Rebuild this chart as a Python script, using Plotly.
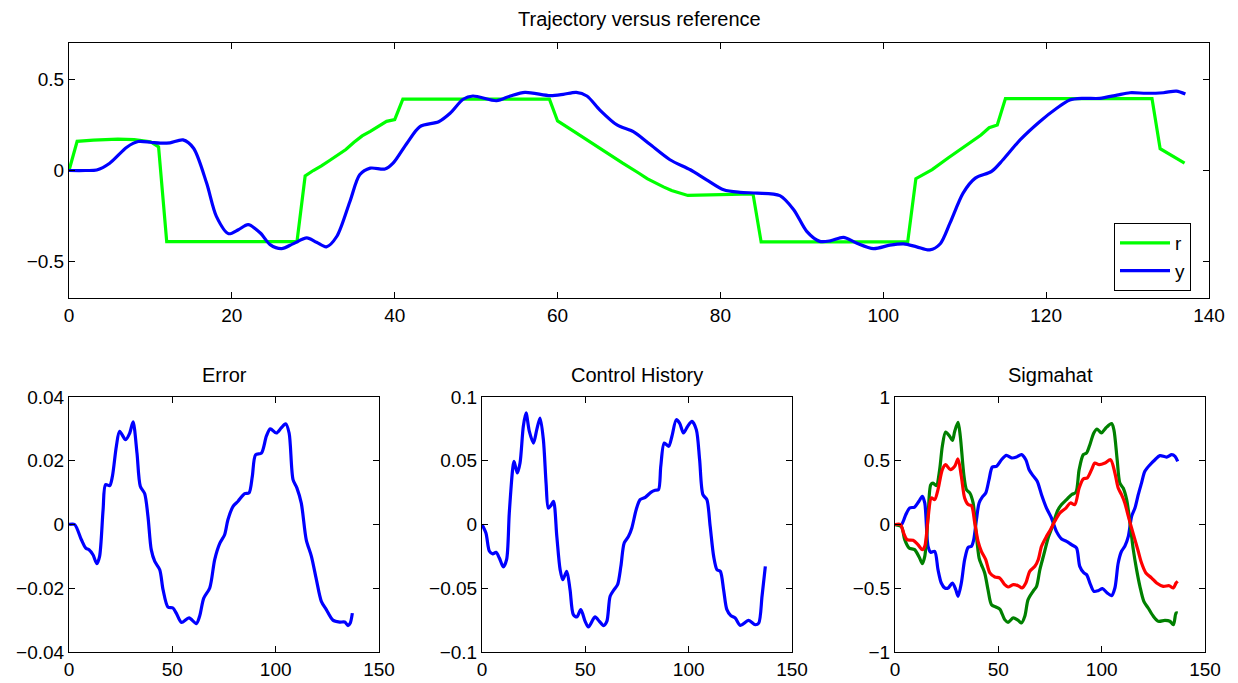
import plotly.graph_objects as go

# ---------------- Data ----------------
# Trajectory versus reference: reference r (piecewise linear)
r_t = [0, 1, 3, 6, 8, 10, 11, 12, 28, 29, 30, 31, 32, 33, 34, 35, 36, 37, 38, 39, 40, 41,
       59, 60, 62, 64, 66, 68, 70, 71, 73, 74, 76, 80, 84, 85, 103, 104, 106, 108, 110,
       112, 113, 114, 115, 133, 134, 137]
r_v = [0.0, 0.16, 0.167, 0.172, 0.17, 0.158, 0.13, -0.39, -0.39, -0.03, 0.0, 0.025, 0.055,
       0.085, 0.115, 0.155, 0.19, 0.215, 0.245, 0.27, 0.28, 0.392,
       0.392, 0.272, 0.215, 0.155, 0.095, 0.04, -0.015, -0.045, -0.09, -0.11, -0.137, -0.133,
       -0.128, -0.392, -0.392, -0.045, 0.005, 0.07, 0.135, 0.195, 0.235, 0.25, 0.395, 0.395,
       0.12, 0.04]

# Output y
y_t = [0, 2, 3.4, 5.0, 7.1, 8.5, 10, 11.2, 12.4, 14.0, 15.3, 16.9, 18.1, 19.6, 20.8, 22.0,
       23.5, 24.7, 26.1, 27.5, 29.2, 30.4, 31.6, 32.9, 34.5, 35.7, 37.0, 38.8, 39.8, 41.5,
       43.1, 45.4, 46.8, 48.4, 49.6, 52.5, 54.2, 56.0, 59.1, 60.7, 62.3, 63.6, 65.2, 67.3,
       69.3, 71.3, 73.8, 76.3, 78.3, 80.4, 82.4, 84.5, 87.3, 89.0, 90.6, 92.2, 93.5, 95.1,
       96.7, 98.8, 100.8, 102.5, 104.1, 105.7, 107.0, 108.2, 109.8, 111.3, 113.3, 114.7,
       116.8, 119.2, 121.3, 122.9, 124.6, 126.6, 128.7, 130.3, 132.3, 134.4, 136.0, 137.1]
y_v = [0.0, 0.0, 0.003, 0.04, 0.128, 0.159, 0.155, 0.15, 0.152, 0.168, 0.122, -0.069, -0.252,
       -0.347, -0.325, -0.297, -0.343, -0.407, -0.429, -0.403, -0.370, -0.394, -0.419, -0.361,
       -0.17, -0.024, 0.013, 0.008, 0.04, 0.150, 0.241, 0.268, 0.314, 0.391, 0.409, 0.383,
       0.409, 0.429, 0.411, 0.418, 0.429, 0.409, 0.332, 0.250, 0.213, 0.145, 0.059, 0.004,
       -0.051, -0.106, -0.120, -0.124, -0.138, -0.215, -0.334, -0.389, -0.386, -0.367, -0.398,
       -0.429, -0.410, -0.403, -0.419, -0.436, -0.402, -0.288, -0.124, -0.042, -0.005, 0.059,
       0.168, 0.268, 0.342, 0.387, 0.396, 0.396, 0.414, 0.427, 0.424, 0.427, 0.436, 0.420]

# Error
err_t = [0, 2.7, 6.0, 8.1, 9.7, 11.6, 13.5, 14.8, 16.5, 17.7, 19.7, 21.0, 22.9, 24.5, 27.4,
         29.4, 31.0, 32.9, 34.5, 36.6, 38.2, 39.8, 41.5, 43.9, 45.5, 47.9, 50.3, 51.9, 54.4,
         58.1, 61.6, 63.2, 65.2, 68.1, 70.5, 72.9, 75.3, 76.9, 79.4, 81.8, 85.0, 87.1, 88.7,
         90.3, 93.1, 95.5, 97.4, 100.3, 102.7, 104.8, 106.5, 108.4, 110.3, 112.4, 114.8,
         117.3, 119.7, 122.1, 124.5, 127.7, 131.0, 133.4, 135.0, 136.1, 137.1]
err_v = [0.0, 0.0, -0.0048, -0.0074, -0.0079, -0.0095, -0.0123, -0.010, 0.0047, 0.0125,
         0.0122, 0.0151, 0.0245, 0.0292, 0.0266, 0.0287, 0.0322, 0.0224, 0.012, 0.0097,
         0.0026, -0.0079, -0.0116, -0.0142, -0.0204, -0.0259, -0.0262, -0.0278, -0.0307,
         -0.0293, -0.0311, -0.0288, -0.0231, -0.0199, -0.011, -0.006, -0.0032, 0.0015, 0.0057,
         0.0073, 0.0097, 0.0099, 0.0151, 0.0219, 0.0224, 0.0277, 0.030, 0.0287, 0.0303,
         0.0316, 0.0287, 0.0141, 0.0114, 0.0067, -0.0048, -0.010, -0.0173, -0.0241, -0.0267,
         -0.030, -0.0306, -0.0306, -0.0317, -0.0309, -0.0278]

# Control history
ctl_t = [0, 1.9, 3.6, 5.2, 6.8, 8.4, 10.3, 11.9, 13.2, 14.9, 15.5, 17.1, 18.4, 20.0, 21.3,
         22.9, 24.9, 26.5, 28.1, 29.7, 31.0, 32.1, 33.3, 34.6, 36.2, 37.8, 39.1, 41.0, 42.6,
         44.2, 45.9, 47.8, 49.9, 51.5, 54.7, 56.8, 58.8, 60.4, 62.0, 63.9, 65.6, 67.2, 68.8,
         70.9, 72.5, 74.6, 76.5, 79.0, 81.7, 83.8, 85.4, 86.5, 88.2, 90.3, 91.9, 94.0, 95.6,
         97.5, 99.5, 101.6, 103.7, 105.3, 106.9, 108.8, 110.4, 112.1, 113.7, 115.3, 116.9,
         118.5, 120.4, 122.5, 125.0, 129.0, 132.2, 133.9, 135.5, 137.1]
ctl_v = [0.0, -0.0067, -0.021, -0.0231, -0.0218, -0.0263, -0.0333, -0.0276, 0.009, 0.0443,
         0.0495, 0.0404, 0.0482, 0.077, 0.0875, 0.0731, 0.0639, 0.0744, 0.0835, 0.0665,
         0.0325, 0.0129, 0.0148, 0.0182, -0.0093, -0.0354, -0.0433, -0.0367, -0.0511, -0.0707,
         -0.0725, -0.0668, -0.076, -0.0804, -0.0725, -0.076, -0.0793, -0.076, -0.0563,
         -0.0511, -0.0472, -0.0328, -0.0145, -0.0093, -0.0027, 0.0116, 0.0195, 0.0213, 0.0252,
         0.0268, 0.0273, 0.0456, 0.0639, 0.0613, 0.0692, 0.0822, 0.0796, 0.0718, 0.077,
         0.0809, 0.0744, 0.0508, 0.0234, 0.0195, -0.0014, -0.025, -0.0354, -0.0367, -0.0511,
         -0.0668, -0.0715, -0.0733, -0.0791, -0.0752, -0.0786, -0.0773, -0.0563, -0.0328]

# Sigmahat (three components)
sb_t = [0, 3.1, 5.2, 7.1, 9.5, 11.6, 13.2, 14.4, 16.0, 17.3, 19.2, 20.8, 22.4, 24.1, 25.7,
        27.8, 29.4, 30.5, 32.1, 33.7, 35.4, 37.0, 38.1, 39.4, 40.7, 42.3, 43.9, 45.5, 47.1,
        49.1, 51.5, 53.9, 56.4, 58.8, 61.2, 63.3, 64.9, 66.8, 68.8, 70.9, 73.3, 75.7, 78.1,
        80.6, 83.0, 85.4, 87.8, 89.4, 91.4, 92.7, 94.3, 96.2, 98.3, 100.4, 102.7, 104.8,
        106.4, 108.0, 109.6, 111.2, 112.9, 114.5, 116.1, 117.7, 119.3, 120.9, 123.4, 125.8,
        128.2, 131.4, 133.9, 135.5, 136.8]
sb_v = [0.0, 0.0, 0.077, 0.129, 0.137, 0.182, 0.221, 0.169, -0.171, -0.218, -0.21, -0.354,
        -0.459, -0.498, -0.498, -0.459, -0.511, -0.563, -0.459, -0.276, -0.179, -0.171,
        -0.119, 0.038, 0.169, 0.216, 0.247, 0.352, 0.451, 0.456, 0.508, 0.542, 0.522, 0.529,
        0.548, 0.508, 0.430, 0.383, 0.339, 0.234, 0.129, 0.051, -0.054, -0.114, -0.132,
        -0.158, -0.184, -0.328, -0.380, -0.393, -0.459, -0.524, -0.519, -0.503, -0.537,
        -0.558, -0.498, -0.302, -0.21, -0.171, -0.093, 0.064, 0.129, 0.234, 0.326, 0.417,
        0.469, 0.508, 0.540, 0.529, 0.548, 0.535, 0.495]

sg_t = [0, 3.1, 4.7, 6.8, 9.5, 11.9, 13.2, 14.4, 16.0, 17.3, 18.4, 20.0, 21.6, 22.9, 24.5,
        26.5, 27.8, 28.9, 30.5, 31.6, 33.3, 34.6, 36.2, 37.8, 39.1, 40.7, 41.8, 43.4, 45.0,
        46.7, 48.8, 50.7, 53.1, 54.7, 57.2, 59.6, 61.2, 62.8, 64.4, 66.8, 68.5, 70.1, 72.0,
        74.1, 76.2, 78.5, 80.6, 83.0, 85.4, 87.5, 89.1, 91.1, 92.7, 94.3, 96.2, 97.8, 99.9,
        102.0, 104.8, 105.9, 107.5, 108.8, 110.4, 112.1, 113.7, 115.3, 116.9, 118.5, 120.4,
        122.5, 125.0, 127.4, 130.6, 133.0, 134.7, 136.0, 136.8]
sg_v = [0.0, -0.018, -0.119, -0.184, -0.197, -0.263, -0.307, -0.25, 0.064, 0.312, 0.325,
        0.305, 0.430, 0.613, 0.725, 0.691, 0.66, 0.731, 0.801, 0.691, 0.391, 0.273, 0.247,
        0.169, -0.041, -0.263, -0.315, -0.380, -0.511, -0.629, -0.647, -0.663, -0.746, -0.767,
        -0.733, -0.752, -0.772, -0.72, -0.589, -0.524, -0.485, -0.354, -0.237, -0.106,
        -0.014, 0.103, 0.156, 0.195, 0.234, 0.252, 0.430, 0.548, 0.561, 0.626, 0.718, 0.749,
        0.718, 0.757, 0.791, 0.744, 0.508, 0.325, 0.286, 0.195, 0.012, -0.197, -0.354,
        -0.485, -0.603, -0.655, -0.72, -0.759, -0.752, -0.759, -0.786, -0.694, -0.694]

sr_t = [0, 2.6, 4.2, 5.8, 8.7, 11.1, 13.2, 14.4, 16.0, 17.6, 19.2, 20.8, 22.9, 24.5, 26.8,
        28.9, 30.5, 32.1, 33.7, 35.4, 37.0, 38.6, 40.2, 41.8, 43.9, 45.9, 48.3, 50.7, 53.1,
        54.7, 57.2, 59.6, 61.5, 63.3, 65.2, 67.7, 69.3, 70.9, 73.3, 75.2, 77.3, 79.8, 82.7,
        84.9, 87.0, 89.1, 91.1, 93.0, 95.1, 96.7, 98.8, 101.6, 104.3, 106.4, 108.0, 109.6,
        111.2, 112.9, 114.5, 116.1, 117.7, 119.3, 121.4, 124.2, 126.6, 129.8, 132.7, 134.7,
        136.0, 136.8]
sr_v = [0.0, 0.0, -0.067, -0.119, -0.124, -0.158, -0.197, -0.171, 0.051, 0.208, 0.195,
        0.273, 0.430, 0.469, 0.430, 0.456, 0.514, 0.378, 0.208, 0.156, 0.148, 0.012, -0.132,
        -0.21, -0.276, -0.380, -0.412, -0.42, -0.472, -0.49, -0.472, -0.48, -0.498, -0.459,
        -0.367, -0.328, -0.276, -0.171, -0.093, -0.041, 0.025, 0.090, 0.129, 0.169, 0.156,
        0.286, 0.357, 0.365, 0.430, 0.482, 0.469, 0.482, 0.508, 0.404, 0.286, 0.234, 0.169,
        0.064, -0.028, -0.119, -0.21, -0.302, -0.380, -0.42, -0.459, -0.485, -0.48, -0.498,
        -0.459, -0.446]

# ---------------- Figure ----------------
# The page body adds an 8px offset, so the figure is made 8px smaller and the
# target pixel positions are shifted accordingly.
OFF = 8
W, H = 1238 - OFF, 683 - OFF
FONT = "Liberation Sans, Arial, Helvetica, sans-serif"
BLUE, LGREEN, DGREEN, RED = "#0000FF", "#00FF00", "#008000", "#FF0000"
LW = 3.2

def px_x(a, b):
    return [(a - OFF) / W, (b - OFF) / W]

def px_y(top, bottom):
    return [1 - (bottom - OFF) / H, 1 - (top - OFF) / H]

def axis_style(**kw):
    d = dict(showline=True, linecolor="black", linewidth=1, mirror="ticks",
             ticks="inside", ticklen=6, tickcolor="black", tickwidth=1,
             showgrid=False, zeroline=False, automargin=False,
             tickfont=dict(family=FONT, size=19, color="black"))
    d.update(kw)
    return d

fig = go.Figure()

# top plot
fig.add_trace(go.Scatter(x=r_t, y=r_v, mode="lines", name="r",
                         line=dict(color=LGREEN, width=LW), xaxis="x", yaxis="y"))
fig.add_trace(go.Scatter(x=y_t, y=y_v, mode="lines", name="y",
                         line=dict(color=BLUE, width=LW, shape="spline", smoothing=0.8),
                         xaxis="x", yaxis="y"))
# error
fig.add_trace(go.Scatter(x=err_t, y=err_v, mode="lines", showlegend=False,
                         line=dict(color=BLUE, width=LW, shape="spline", smoothing=0.8),
                         xaxis="x2", yaxis="y2"))
# control
fig.add_trace(go.Scatter(x=ctl_t, y=ctl_v, mode="lines", showlegend=False,
                         line=dict(color=BLUE, width=LW, shape="spline", smoothing=0.8),
                         xaxis="x3", yaxis="y3"))
# sigmahat
for t, v, c in [(sb_t, sb_v, BLUE), (sg_t, sg_v, DGREEN), (sr_t, sr_v, RED)]:
    fig.add_trace(go.Scatter(x=t, y=v, mode="lines", showlegend=False,
                             line=dict(color=c, width=LW, shape="spline", smoothing=0.8),
                             xaxis="x4", yaxis="y4"))

top_y = px_y(43, 298)
bot_y = px_y(397, 652)

fig.update_layout(
    template="none",
    width=W, height=H, autosize=False,
    margin=dict(l=0, r=0, t=0, b=0, pad=0, autoexpand=False),
    paper_bgcolor="white", plot_bgcolor="white",
    font=dict(family=FONT, size=19, color="black"),
    xaxis=axis_style(domain=px_x(69, 1209), range=[0, 140], dtick=20, tick0=0, anchor="y"),
    yaxis=axis_style(domain=top_y, range=[-0.7, 0.7], tickvals=[-0.5, 0, 0.5], anchor="x"),
    xaxis2=axis_style(domain=px_x(69, 379), range=[0, 150], dtick=50, tick0=0, anchor="y2"),
    yaxis2=axis_style(domain=bot_y, range=[-0.04, 0.04], dtick=0.02, tick0=0, anchor="x2"),
    xaxis3=axis_style(domain=px_x(482, 792), range=[0, 150], dtick=50, tick0=0, anchor="y3"),
    yaxis3=axis_style(domain=bot_y, range=[-0.1, 0.1], dtick=0.05, tick0=0, anchor="x3"),
    xaxis4=axis_style(domain=px_x(895, 1205), range=[0, 150], dtick=50, tick0=0, anchor="y4"),
    yaxis4=axis_style(domain=bot_y, range=[-1, 1], dtick=0.5, tick0=0, anchor="x4"),
    legend=dict(x=(1191 - OFF) / W, y=1 - (223 - OFF) / H, xanchor="right", yanchor="top",
                bgcolor="white", bordercolor="black", borderwidth=1,
                itemwidth=50, tracegroupgap=0,
                font=dict(family=FONT, size=19, color="black")),
    showlegend=True,
)

titles = [("Trajectory versus reference", 639, 19), ("Error", 224, 375),
          ("Control History", 637, 375), ("Sigmahat", 1050, 375)]
for text, cx, cy in titles:
    fig.add_annotation(text=text, x=(cx - OFF) / W, y=1 - (cy - OFF) / H,
                       xref="paper", yref="paper",
                       xanchor="center", yanchor="middle", showarrow=False,
                       font=dict(family=FONT, size=20, color="black"))

fig.write_html("out.html")
